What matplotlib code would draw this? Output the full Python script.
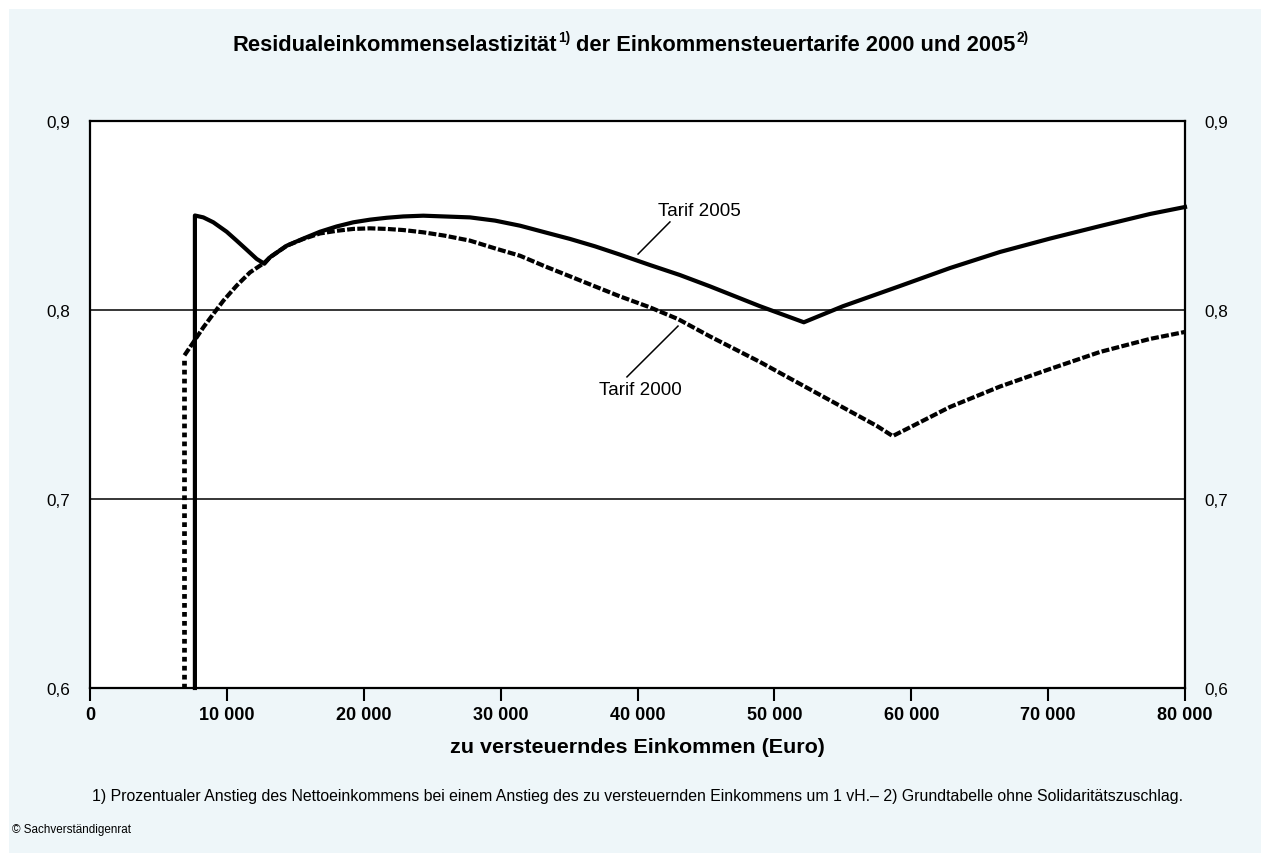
import matplotlib
matplotlib.use('Agg')
import matplotlib.pyplot as plt
from matplotlib.patches import Rectangle

plt.rcParams['font.family'] = ['Liberation Sans', 'DejaVu Sans']

# ---------------- data ----------------
# Tarif 2005 (solid)
x2005 = [7664, 7664, 8280, 9010, 9985, 10715, 11445, 12180, 12740,
         13150, 14370, 15590, 16800, 18020, 19240, 20460, 21680, 22890, 24350,
         27760, 29590, 31420, 33240, 35070, 36890, 38720, 40910, 43100,
         45300, 48950, 52152, 55010, 59180, 62830, 66480, 70140, 73790, 77440, 80000]
y2005 = [0.600, 0.850, 0.8490, 0.8464, 0.8414, 0.8367, 0.8319, 0.8270, 0.8245,
         0.8279, 0.8340, 0.8378, 0.8414, 0.8442, 0.8464, 0.8478, 0.8488, 0.8495, 0.8499,
         0.8490, 0.8473, 0.8446, 0.8411, 0.8376, 0.8337, 0.8293, 0.8238, 0.8185,
         0.8125, 0.8020, 0.7935, 0.8020, 0.8127, 0.8222, 0.8307, 0.8378, 0.8444, 0.8508, 0.8545]

# Tarif 2000 (dashed), vertical jump at the basic allowance drawn dotted
x2000_jump = [6902, 6902]
y2000_jump = [0.600, 0.775]
x2000 = [6902, 7550, 8280, 9010, 9740, 10715, 11690, 12740,
         13150, 14370, 15590, 16800, 18020, 19240, 20460, 21680, 22890, 24350,
         25940, 27760, 29590, 31420, 33240, 35070, 36890, 38720, 40910, 42960,
         45300, 48950, 52600, 57500, 58643,
         59930, 62830, 66480, 70140, 73790, 77440, 80000]
y2000 = [0.7760, 0.7829, 0.7908, 0.7979, 0.8049, 0.8129, 0.8199, 0.8250,
         0.8279, 0.8340, 0.8376, 0.8405, 0.8419, 0.8429, 0.8432, 0.8429, 0.8423, 0.8411,
         0.8393, 0.8367, 0.8326, 0.8287, 0.8231, 0.8178, 0.8125, 0.8072, 0.8014, 0.7952,
         0.7860, 0.7725, 0.7580, 0.7386, 0.7333,
         0.7380, 0.7487, 0.7595, 0.7688, 0.7778, 0.7847, 0.7884]

xticks = [0, 10000, 20000, 30000, 40000, 50000, 60000, 70000, 80000]
xticklabels = ['0', '10 000', '20 000', '30 000', '40 000', '50 000', '60 000', '70 000', '80 000']
yticks = [0.6, 0.7, 0.8, 0.9]
yticklabels = ['0,6', '0,7', '0,8', '0,9']

title_pieces = [("Residualeinkommenselastizität", False), ("1)", True),
                ("der Einkommensteuertarife 2000 und 2005", False), ("2)", True)]
xlabel = "zu versteuerndes Einkommen (Euro)"
footnote = ("1) Prozentualer Anstieg des Nettoeinkommens bei einem Anstieg des zu versteuernden "
            "Einkommens um 1 vH.\u2013 2) Grundtabelle ohne Solidaritätszuschlag.")
source = "\u00a9 Sachverständigenrat"

# ---------------- figure ----------------
W, H = 1261, 854
fig = plt.figure(figsize=(W / 100, H / 100), dpi=100)
fig.patch.set_facecolor('white')
fig.patches.append(Rectangle((9 / W, 0), 1 - 9 / W, 1 - 10 / H, transform=fig.transFigure,
                             facecolor='#eef6f9', edgecolor='none', zorder=-10))

ax = fig.add_axes([90 / W, 1 - 689 / H, 1095 / W, 567 / H])
ax.set_facecolor('white')
ax.set_xlim(0, 80000)
ax.set_ylim(0.6, 0.9)

ax.set_yticks(yticks)
ax.set_yticklabels(yticklabels)
ax.tick_params(axis='y', left=False, right=False, labelleft=True, labelright=True,
               length=0, pad=14, labelsize=12.3)
ax.set_xticks(xticks)
ax.set_xticklabels(xticklabels)
ax.tick_params(axis='x', direction='out', length=9, width=1.5, pad=4, labelsize=13)
for lab in ax.get_xticklabels():
    lab.set_fontweight('bold')

ax.grid(axis='y', color='black', lw=1.1)
ax.set_axisbelow(True)
for s in ax.spines.values():
    s.set_linewidth(1.6)
    s.set_color('black')

ax.plot(x2005, y2005, color='black', lw=3.0, solid_joinstyle='round', zorder=3, clip_on=False)
ax.plot(x2000_jump, y2000_jump, color='black', lw=3.4, dashes=(1.0, 0.9), zorder=3)
ax.plot(x2000, y2000, color='black', lw=3.0, dashes=(1.9, 0.55), zorder=3)

# labels with leader lines
ax.text(44490, 0.8529, 'Tarif 2005', ha='center', va='center', fontsize=13.6)
ax.plot([40040, 42370], [0.8296, 0.8466], color='black', lw=1.1, zorder=4)
ax.text(40180, 0.7582, 'Tarif 2000', ha='center', va='center', fontsize=13.6)
ax.plot([39230, 42960], [0.7646, 0.7915], color='black', lw=1.1, zorder=4)

# ---------------- texts fitted to widths ----------------
fig.canvas.draw()
r = fig.canvas.get_renderer()


def fit(t, target):
    w = t.get_window_extent(r).width
    t.set_fontsize(t.get_fontsize() * target / w)


t = fig.text(637 / W, 1 - 748 / H, xlabel, ha='center', va='center', fontsize=13, fontweight='bold')
fit(t, 372)
t = fig.text(637 / W, 1 - 797 / H, footnote, ha='center', va='center', fontsize=10)
fit(t, 1093)
t = fig.text(12 / W, 1 - 830 / H, source, ha='left', va='center', fontsize=9)
fit(t, 120)

# title built from pieces with superscripts
S = 14.0
target_w, cx, cy = 795, 630.5, 43
for it in range(3):
    for tt in list(fig.texts):
        if getattr(tt, '_is_title', False):
            tt.remove()
    objs = []
    for txt, sup in title_pieces:
        o = fig.text(0, 0, txt, fontsize=S * (0.62 if sup else 1.0), fontweight='bold',
                     ha='left', va='baseline')
        o._is_title = True
        objs.append((o, sup))
    spx = S * 100 / 72
    widths = [o.get_window_extent(r).width for o, _ in objs]
    gaps = [0, 1, 0.28 * spx, 1]
    total = sum(widths) + sum(gaps)
    if abs(total - target_w) > 1 and it < 2:
        S *= target_w / total
        continue
    x = cx - total / 2
    base = cy + 0.716 * spx / 2
    for (o, sup), w, g in zip(objs, widths, gaps):
        x += g
        yb = base - (0.42 * spx if sup else 0)
        o.set_position((x / W, 1 - yb / H))
        x += w
    break

fig.savefig('out.png', dpi=100, facecolor=fig.get_facecolor())
